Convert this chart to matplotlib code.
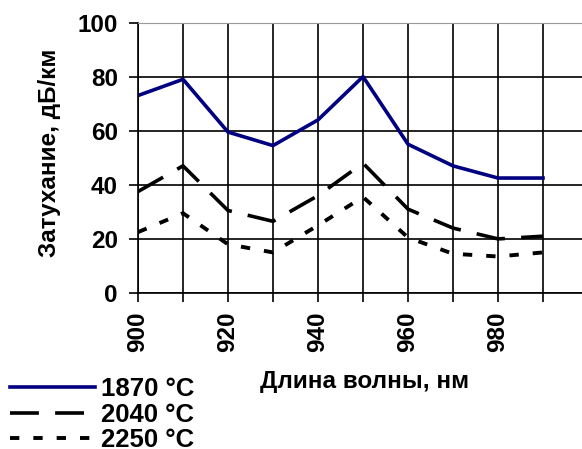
import matplotlib
matplotlib.use('Agg')
import matplotlib.pyplot as plt

# wavelength, nm
wl = [900, 910, 920, 930, 940, 950, 960, 970, 980, 990]
# attenuation, dB/km for each drawing temperature
att_1870 = [73, 79, 59.5, 54.5, 64, 80, 55, 47, 42.5, 42.5]
att_2040 = [37.5, 47, 30.5, 26.5, 36, 48, 31, 24, 20, 21]
att_2250 = [22.5, 29.5, 18, 15, 25, 35.5, 20.5, 14.5, 13.5, 15]
labels = ['1870 °C', '2040 °C', '2250 °C']

xticks = list(range(900, 1001, 10))
xticklabels = [str(t) if t % 20 == 0 and t < 1000 else '' for t in xticks]
yticks = [0, 20, 40, 60, 80, 100]

plt.rcParams['font.family'] = ['Liberation Sans', 'DejaVu Sans']
plt.rcParams['font.weight'] = 'bold'
fs = 17.5

fig = plt.figure(figsize=(5.82, 4.49), dpi=100)
ax = fig.add_axes([138/582, 1 - 293/449, 450/582, 270.5/449])

ax.plot(wl, att_1870, color='#000080', lw=2.6, label=labels[0])
ax.plot(wl, att_2040, color='black', lw=2.6, linestyle=(0, (8, 4.5)), label=labels[1])
ax.plot(wl, att_2250, color='black', lw=2.8, linestyle=(0, (2.4, 3.6)), label=labels[2])

ax.set_xlim(900, 1000)
ax.set_ylim(0, 100)
ax.set_xticks(xticks)
ax.set_xticklabels(xticklabels, rotation=90, fontsize=fs, fontweight='bold')
ax.set_yticks(yticks)
ax.set_yticklabels([str(t) for t in yticks], fontsize=fs, fontweight='bold')
ax.tick_params(axis='both', direction='out', length=6.5, width=1.2, color='black')
ax.tick_params(axis='x', pad=7)
ax.tick_params(axis='y', pad=8)
ax.grid(True, color='black', lw=1.2)
ax.set_axisbelow(True)
ax.spines['top'].set_color('#999999')
ax.spines['right'].set_visible(False)
for s in ['left', 'bottom']:
    ax.spines[s].set_linewidth(1.2)

fig.text(50/582, 1 - 153/449, 'Затухание, дБ/км', rotation=90, ha='center', va='center',
         fontsize=fs, fontweight='bold')
fig.text(364.7/582, 1 - 388/449, 'Длина волны, нм', ha='center', va='baseline',
         fontsize=fs, fontweight='bold')

fig.legend(loc='upper left', bbox_to_anchor=(10/582, 1 - 377/449), frameon=False,
           prop={'size': 18.5, 'weight': 'bold'}, handlelength=3.3, handletextpad=0.25,
           labelspacing=0.06, borderpad=0, borderaxespad=0)

fig.savefig('out.png', dpi=100)
